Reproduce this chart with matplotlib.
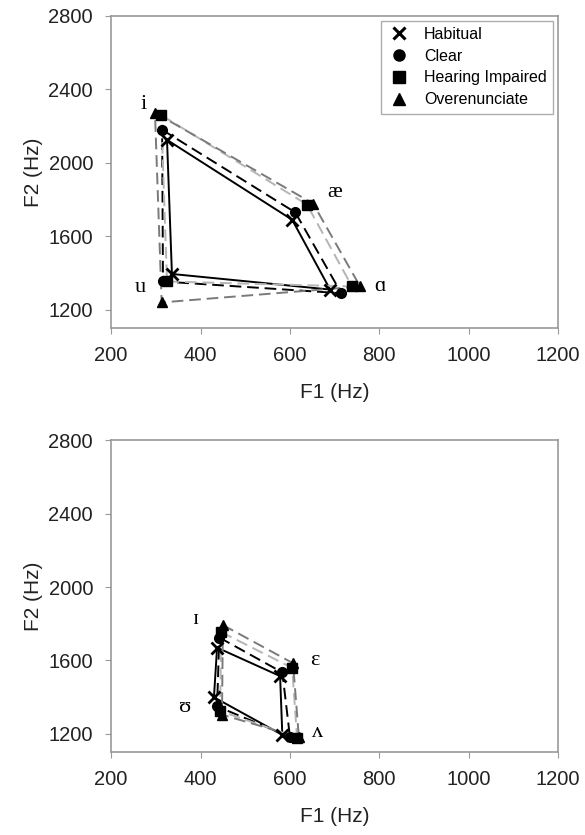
import matplotlib.pyplot as plt
from matplotlib.lines import Line2D

styles = ['Habitual', 'Clear', 'Hearing Impaired', 'Overenunciate']
markers = ['x', 'o', 's', '^']
line_colors = ['black', 'black', '#b5b5b5', '#7a7a7a']
line_styles = ['-', '--', '--', '--']

# top panel: tense vowels, polygon order i, ae, a, u
vowels_top = ['i', 'æ', 'ɑ', 'u']
f1_top = {
    'Habitual':         [325, 605, 690, 336],
    'Clear':            [314, 612, 715, 316],
    'Hearing Impaired': [312, 638, 739, 325],
    'Overenunciate':    [298, 652, 757, 313],
}
f2_top = {
    'Habitual':         [2125, 1690, 1310, 1395],
    'Clear':            [2180, 1730, 1290, 1354],
    'Hearing Impaired': [2260, 1773, 1327, 1354],
    'Overenunciate':    [2273, 1778, 1327, 1240],
}
lab_top = {'i': (272, 2315), 'æ': (700, 1840), 'ɑ': (802, 1325), 'u': (265, 1320)}

# bottom panel: lax vowels, polygon order I, E, V, U
vowels_bot = ['ɪ', 'ɛ', 'ʌ', 'ʊ']
f1_bot = {
    'Habitual':         [437, 578, 583, 430],
    'Clear':            [442, 583, 600, 437],
    'Hearing Impaired': [446, 605, 616, 444],
    'Overenunciate':    [450, 607, 620, 448],
}
f2_bot = {
    'Habitual':         [1670, 1515, 1195, 1400],
    'Clear':            [1725, 1535, 1185, 1350],
    'Hearing Impaired': [1755, 1560, 1180, 1325],
    'Overenunciate':    [1793, 1585, 1182, 1305],
}
lab_bot = {'ɪ': (388, 1821), 'ɛ': (656, 1600), 'ʌ': (661, 1210), 'ʊ': (365, 1345)}

plt.rcParams['font.family'] = ['Liberation Sans', 'DejaVu Sans']
fig = plt.figure(figsize=(5.85, 8.35), dpi=100)
ax1 = fig.add_axes([0.190, 0.607, 0.764, 0.374])
ax2 = fig.add_axes([0.190, 0.099, 0.764, 0.374])


def panel(ax, f1, f2, labels):
    for k, s in enumerate(styles):
        xs = f1[s] + [f1[s][0]]
        ys = f2[s] + [f2[s][0]]
        ax.plot(xs, ys, color=line_colors[k], ls=line_styles[k], lw=1.4,
                dashes=(6, 3) if line_styles[k] == '--' else (None, None), zorder=2)
    for k, s in enumerate(styles):
        ms = 8 if markers[k] == 'x' else 7
        ax.plot(f1[s], f2[s], ls='none', marker=markers[k], color='black',
                ms=ms, mew=2 if markers[k] == 'x' else 1, zorder=3)
    for v, (x, y) in labels.items():
        ax.text(x, y, v, fontsize=16, family=['Liberation Serif', 'DejaVu Serif'],
                ha='center', va='center')
    ax.set_xlim(200, 1200)
    ax.set_ylim(1100, 2800)
    ax.set_xticks([200, 400, 600, 800, 1000, 1200])
    ax.set_yticks([1200, 1600, 2000, 2400, 2800])
    ax.set_xlabel('F1 (Hz)', fontsize=15, color='#222222', labelpad=13)
    ax.set_ylabel('F2 (Hz)', fontsize=15, color='#222222', labelpad=4)
    ax.tick_params(labelsize=14.5, colors='#999999', labelcolor='#222222',
                   direction='out', length=4, pad=9)
    for sp in ax.spines.values():
        sp.set_color('#999999')
        sp.set_linewidth(1.2)


panel(ax1, f1_top, f2_top, lab_top)
panel(ax2, f1_bot, f2_bot, lab_bot)

handles = [Line2D([], [], ls='none', marker=m, color='black',
                  ms=9 if m == 'x' else 8, mew=2.2 if m == 'x' else 1)
           for m in markers]
leg = ax1.legend(handles, styles, loc='upper right', fontsize=11.5,
                 frameon=True, fancybox=False, edgecolor='#999999',
                 borderaxespad=0.3, handletextpad=0.8, labelspacing=0.42,
                 handlelength=1.5)
leg.get_frame().set_linewidth(1.0)

plt.savefig('out.png')
